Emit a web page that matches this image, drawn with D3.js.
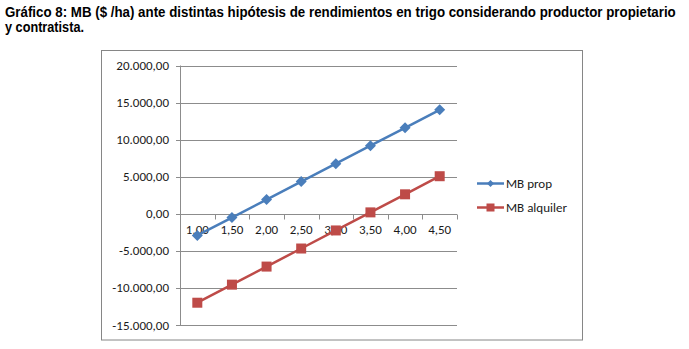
<!DOCTYPE html>
<html><head><meta charset="utf-8">
<script src="https://cdn.jsdelivr.net/npm/d3@7"></script>
<style>body{margin:0;background:#fff;} svg{display:block;}</style>
</head><body>
<script>
const categories = ["1,00","1,50","2,00","2,50","3,00","3,50","4,00","4,50"];
const mbProp = [-2925, -504, 1917, 4338, 6759, 9180, 11601, 14022];
const mbAlquiler = [-11995, -9558, -7121, -4684, -2247, 190, 2627, 5067];
const yTicks = [-15000, -10000, -5000, 0, 5000, 10000, 15000, 20000];
const seriesNames = ["MB prop", "MB alquiler"];
const titleLines = ["Gráfico 8: MB ($ /ha) ante distintas hipótesis de rendimientos en trigo considerando productor propietario", "y contratista."];

const W = 689, H = 349;
const svg = d3.select("body").append("svg").attr("width", W).attr("height", H);
const font = "Carlito, Calibri, 'Liberation Sans', Arial, sans-serif";

// Title (scaled horizontally to mimic a narrow bold face)
const titleWidths = [671, 79];
titleLines.forEach((t, i) => {
  const g = svg.append("g");
  const txt = g.append("text").attr("x", 0).attr("y", 0)
    .attr("font-family", "'Liberation Sans',Arial,sans-serif")
    .attr("font-weight", "bold").attr("font-size", 14).attr("fill", "#000").text(t);
  const w = txt.node().getComputedTextLength();
  g.attr("transform", `translate(5,${17 + i * 15}) scale(${titleWidths[i] / w},1)`);
});

// Frame
svg.append("rect").attr("x", 101.5).attr("y", 50.5).attr("width", 481).attr("height", 289.5)
  .attr("fill", "#fff").attr("stroke", "#868686").attr("stroke-width", 1);

const x0 = 180, x1 = 457;
const y = d3.scaleLinear().domain([-15000, 20000]).range([325, 65.5]);
const x = d3.scaleBand().domain(categories).range([x0, x1]).paddingInner(0).paddingOuter(0);

// Gridlines
svg.append("g").selectAll("line").data(yTicks).join("line")
  .attr("x1", x0 - 4).attr("x2", x1).attr("y1", d => Math.round(y(d)) + 0.5).attr("y2", d => Math.round(y(d)) + 0.5)
  .attr("stroke", "#8c8c8c").attr("stroke-width", 1);

// Y axis line
svg.append("line").attr("x1", x0 + 0.5).attr("x2", x0 + 0.5).attr("y1", y(20000)).attr("y2", y(-15000))
  .attr("stroke", "#8c8c8c");

// Y labels
const fmt = v => {
  const s = d3.format(",.2f")(v);
  return s.replace(/,/g, "#").replace(".", ",").replace(/#/g, ".").replace("−", "-");
};
svg.append("g").selectAll("text").data(yTicks).join("text")
  .attr("x", 169).attr("y", d => y(d)).attr("dy", "0.35em").attr("text-anchor", "end")
  .attr("font-family", font).attr("font-size", 13).attr("fill", "#1a1a1a")
  .text(d => fmt(d));

// X axis ticks at zero
const zy = Math.round(y(0)) + 0.5;
const bounds = categories.map(c => x(c)).concat([x1]);
svg.append("g").selectAll("line").data(bounds).join("line")
  .attr("x1", d => Math.round(d) + 0.5).attr("x2", d => Math.round(d) + 0.5)
  .attr("y1", zy).attr("y2", zy + 5).attr("stroke", "#8c8c8c");

// X labels
svg.append("g").selectAll("text").data(categories).join("text")
  .attr("x", d => x(d) + x.bandwidth() / 2).attr("y", zy + 19)
  .attr("text-anchor", "middle").attr("font-family", font).attr("font-size", 13).attr("fill", "#1a1a1a")
  .text(d => d);

const colors = ["#4a7ebb", "#be4b48"];
const line = d3.line().x((d, i) => x(categories[i]) + x.bandwidth() / 2).y(d => y(d));

// Series
[mbProp, mbAlquiler].forEach((data, si) => {
  svg.append("path").datum(data).attr("d", line).attr("fill", "none")
    .attr("stroke", colors[si]).attr("stroke-width", 2.5);
});
// markers
svg.append("g").selectAll("path").data(mbProp).join("path")
  .attr("transform", (d, i) => `translate(${x(categories[i]) + x.bandwidth() / 2},${y(d)})`)
  .attr("d", "M0,-5.5L5.5,0L0,5.5L-5.5,0Z").attr("fill", colors[0]);
svg.append("g").selectAll("rect").data(mbAlquiler).join("rect")
  .attr("x", (d, i) => x(categories[i]) + x.bandwidth() / 2 - 5).attr("y", d => y(d) - 5)
  .attr("width", 10).attr("height", 10).attr("fill", colors[1]);

// Legend
const lg = [183.5, 207.5];
seriesNames.forEach((name, i) => {
  svg.append("line").attr("x1", 477).attr("x2", 504).attr("y1", lg[i]).attr("y2", lg[i])
    .attr("stroke", colors[i]).attr("stroke-width", 2.5);
  if (i === 0) {
    svg.append("path").attr("transform", `translate(490.5,${lg[i]})`).attr("d", "M0,-3.5L3.5,0L0,3.5L-3.5,0Z").attr("fill", colors[0]);
  } else {
    svg.append("rect").attr("x", 486.5).attr("y", lg[i] - 4).attr("width", 8).attr("height", 8).attr("fill", colors[1]);
  }
  svg.append("text").attr("x", 506).attr("y", lg[i]).attr("dy", "0.35em")
    .attr("font-family", font).attr("font-size", 13).attr("fill", "#1a1a1a").text(name);
});
</script>
</body></html>
